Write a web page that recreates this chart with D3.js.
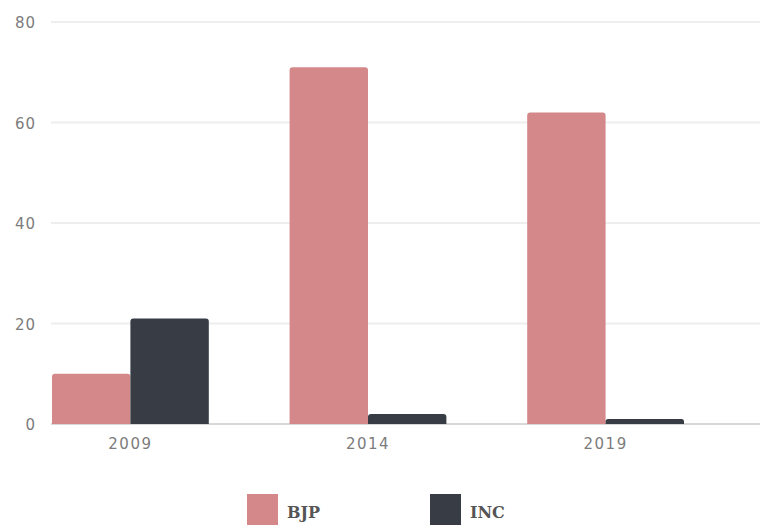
<!DOCTYPE html>
<html>
<head>
<meta charset="utf-8">
<script src="https://cdn.jsdelivr.net/npm/d3@7"></script>
<style>
  body { margin: 0; background: #fff; }
  svg { display: block; }
</style>
</head>
<body>
<svg></svg>
<script>
var years = ["2009", "2014", "2019"];
var parties = ["BJP", "INC"];
var bjpSeats = [10, 71, 62];
var incSeats = [21, 2, 1];
var yTicks = [0, 20, 40, 60, 80];

var colors = { BJP: "#d4888a", INC: "#373c45" };

var screen = { width: 760, height: 526 };

var svg = d3.select("svg")
            .attr("width", screen.width)
            .attr("height", screen.height);

// bottom line sits at y 424, the 80 gridline at 22
var yScale = d3.scaleLinear()
               .domain([0, 80])
               .range([424, 22]);

var xScale = d3.scaleBand()
               .domain(years)
               .range([52, 684])
               .paddingInner(0.34)
               .paddingOuter(0);

var xInner = d3.scaleBand()
               .domain(parties)
               .range([0, xScale.bandwidth()])
               .padding(0);

// gridlines
svg.append("g")
   .selectAll("line")
   .data(yTicks)
   .enter()
   .append("line")
   .attr("x1", 51)
   .attr("x2", screen.width)
   .attr("y1", function(d) { return yScale(d); })
   .attr("y2", function(d) { return yScale(d); })
   .attr("stroke", function(d) { return d == 0 ? "#d8d8d8" : "#eeeeee"; })
   .attr("stroke-width", 2);

// y labels
svg.append("g")
   .selectAll("text")
   .data(yTicks)
   .enter()
   .append("text")
   .attr("x", 36)
   .attr("y", function(d) { return yScale(d) + 6; })
   .attr("text-anchor", "end")
   .attr("font-family", "DejaVu Sans, sans-serif")
   .attr("font-size", 15)
   .attr("letter-spacing", 1)
   .attr("fill", "#7c7c7c")
   .text(function(d) { return d; });

// x labels
svg.append("g")
   .selectAll("text")
   .data(years)
   .enter()
   .append("text")
   .attr("x", function(d) { return xScale(d) + xScale.bandwidth() / 2; })
   .attr("y", 449)
   .attr("text-anchor", "middle")
   .attr("font-family", "DejaVu Sans, sans-serif")
   .attr("font-size", 15)
   .attr("letter-spacing", 1.5)
   .attr("fill", "#7c7c7c")
   .text(function(d) { return d; });

var rows = years.map(function(y, i) {
  return { year: y, values: [
    { party: "BJP", value: bjpSeats[i] },
    { party: "INC", value: incSeats[i] }
  ]};
});

// bar with rounded top corners
var barPath = function(x, y, w, h) {
  var r = Math.min(3, h / 2, w / 2);
  return "M" + x + "," + (y + h) +
         "V" + (y + r) +
         "Q" + x + "," + y + " " + (x + r) + "," + y +
         "H" + (x + w - r) +
         "Q" + (x + w) + "," + y + " " + (x + w) + "," + (y + r) +
         "V" + (y + h) + "Z";
};

var groups = svg.append("g")
                .selectAll("g")
                .data(rows)
                .enter()
                .append("g")
                .attr("transform", function(d) { return "translate(" + xScale(d.year) + ",0)"; });

groups.selectAll("path")
      .data(function(d) { return d.values; })
      .enter()
      .append("path")
      .attr("fill", function(d) { return colors[d.party]; })
      .attr("d", function(d) {
        var y = yScale(d.value);
        return barPath(xInner(d.party), y, xInner.bandwidth(), yScale(0) - y);
      });

// legend
var legendX = { BJP: 247, INC: 430 };
var legend = svg.append("g")
                .selectAll("g")
                .data(parties)
                .enter()
                .append("g")
                .attr("transform", function(d) { return "translate(" + legendX[d] + ",494)"; });

legend.append("rect")
      .attr("width", 31)
      .attr("height", 31)
      .attr("fill", function(d) { return colors[d]; });

legend.append("text")
      .attr("x", 40)
      .attr("y", 24)
      .attr("font-family", "DejaVu Serif, serif")
      .attr("font-weight", "bold")
      .attr("font-size", 16)
      .attr("fill", "#555")
      .text(function(d) { return d; });
</script>
</body>
</html>
